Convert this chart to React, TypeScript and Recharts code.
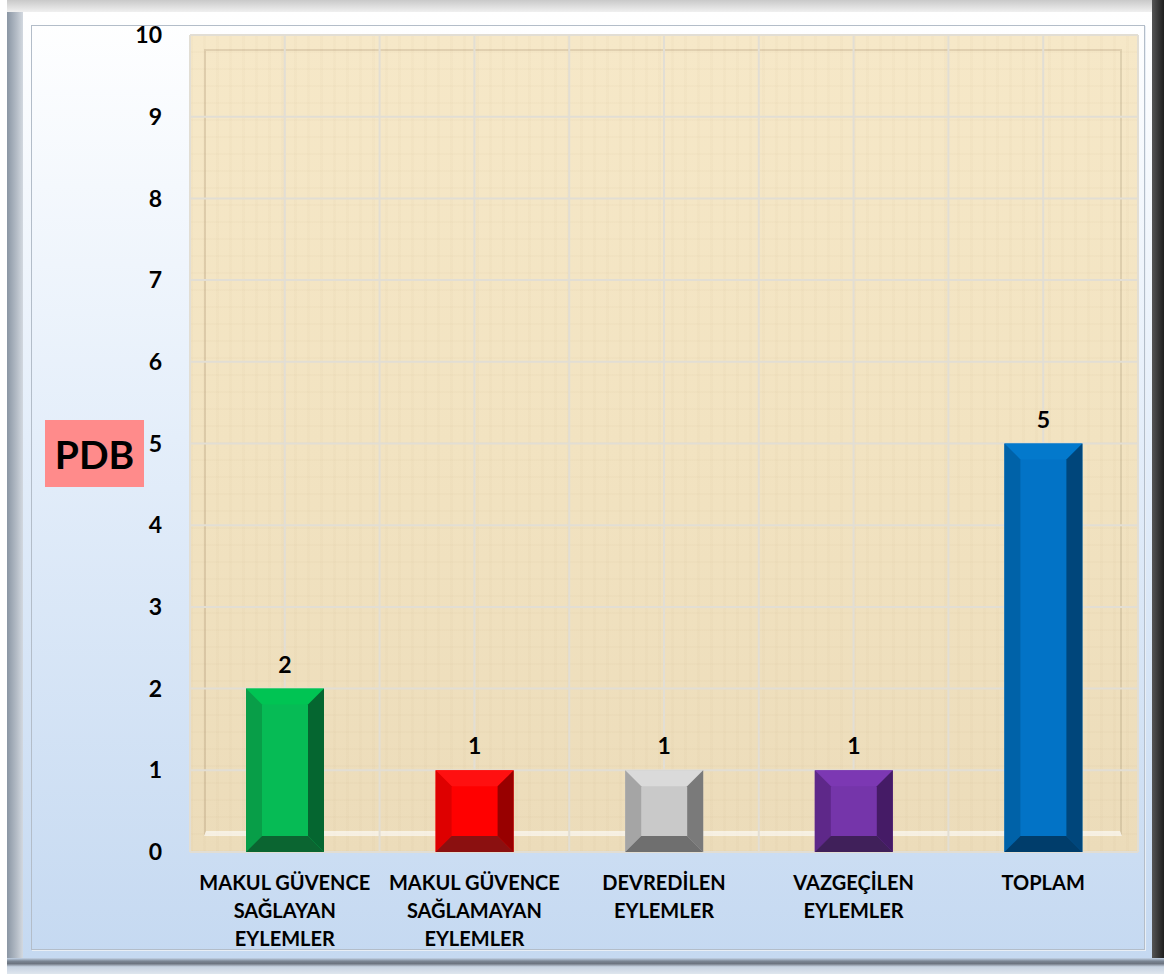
import React from "react";
import { BarChart, Bar, XAxis, YAxis, CartesianGrid, LabelList } from "recharts";

const categories = [
  "MAKUL GÜVENCE\nSAĞLAYAN\nEYLEMLER",
  "MAKUL GÜVENCE\nSAĞLAMAYAN\nEYLEMLER",
  "DEVREDİLEN\nEYLEMLER",
  "VAZGEÇİLEN\nEYLEMLER",
  "TOPLAM",
];
const values = [2, 1, 1, 1, 5];
const yTicks = [0, 1, 2, 3, 4, 5, 6, 7, 8, 9, 10];

// face colours: centre, top, left, right, bottom
const PALETTES = [
  { c: "#06bb55", t: "#00c453", l: "#089e48", r: "#056630", b: "#0b6531" },
  { c: "#ff0000", t: "#ff1010", l: "#de0000", r: "#980000", b: "#8b1010" },
  { c: "#c9c9c9", t: "#dadada", l: "#a5a5a5", r: "#7a7a7a", b: "#6f6f6f" },
  { c: "#7535aa", t: "#7c38b3", l: "#5e2889", r: "#451b66", b: "#40205a" },
  { c: "#0273c6", t: "#0379cc", l: "#0062a8", r: "#00467b", b: "#003d6b" },
];

const data = categories.map((name, i) => ({ name, value: values[i] }));

const W = 1164;
const H = 974;
const M = { top: 35, right: 26, bottom: 22, left: 130 };
const Y_W = 60;
const X_H = 100;
const PLOT = {
  left: M.left + Y_W,
  top: M.top,
  right: W - M.right,
  bottom: H - M.bottom - X_H,
};
const FONT = "Lato, 'Open Sans', sans-serif";

function BevelBar(props: any) {
  const { x, y, width, height, index } = props;
  const p = PALETTES[index % PALETTES.length];
  const d = 16;
  const x2 = x + width;
  const y2 = y + height;
  return (
    <g>
      <rect x={x} y={y} width={width} height={height} fill={p.c} />
      <polygon points={`${x},${y} ${x2},${y} ${x2 - d},${y + d} ${x + d},${y + d}`} fill={p.t} />
      <polygon points={`${x},${y} ${x + d},${y + d} ${x + d},${y2 - d} ${x},${y2}`} fill={p.l} />
      <polygon points={`${x2},${y} ${x2},${y2} ${x2 - d},${y2 - d} ${x2 - d},${y + d}`} fill={p.r} />
      <polygon points={`${x},${y2} ${x + d},${y2 - d} ${x2 - d},${y2 - d} ${x2},${y2}`} fill={p.b} />
    </g>
  );
}

function CategoryTick(props: any) {
  const { x, y, payload } = props;
  const lines = String(payload.value).split("\n");
  return (
    <text
      x={x}
      y={y + 30}
      textAnchor="middle"
      fontFamily={FONT}
      fontWeight={700}
      fontSize={20}
      fill="#000"
    >
      {lines.map((l, i) => (
        <tspan key={i} x={x} dy={i === 0 ? 0 : 28}>
          {l}
        </tspan>
      ))}
    </text>
  );
}

export default function App() {
  return (
    <div
      style={{
        position: "absolute",
        left: 0,
        top: 0,
        width: W,
        height: H,
        background: "#ffffff",
        overflow: "hidden",
      }}
    >
      {/* picture frame */}
      <div style={{ position: "absolute", left: 7, top: 0, right: 0, bottom: 0, background: "#d4d8de" }} />
      <div style={{ position: "absolute", left: 7, top: 0, width: 16, bottom: 0, background: "linear-gradient(90deg, #8a96a4, #b4bcc6 60%, #d3d9e0)" }} />
      <div style={{ position: "absolute", left: 7, top: 0, right: 0, height: 12, background: "linear-gradient(180deg, #c9c9c9, #f0f0f0)" }} />
      <div style={{ position: "absolute", right: 0, top: 0, width: 12, bottom: 0, background: "linear-gradient(90deg, #555, #1e1e1e)" }} />
      <div style={{ position: "absolute", left: 7, right: 0, bottom: 0, height: 16, background: "linear-gradient(180deg, #c4d4e8 0%, #7a8593 20%, #6c7480 35%, #c7d3e2 55%, #dfe6ee 100%)" }} />
      {/* inner panel */}
      <div
        style={{
          position: "absolute",
          left: 23,
          top: 12,
          right: 12,
          bottom: 16,
          background: "linear-gradient(180deg, #ffffff 0%, #e4eefa 45%, #c5d9f1 100%)",
        }}
      />
      <div
        style={{
          position: "absolute",
          left: 31,
          top: 25,
          width: 1143 - 31,
          height: 948 - 25,
          border: "1px solid #b3bdc9",
          boxShadow: "1px 1px 0 #e8eef5",
        }}
      />
      {/* parchment plot background */}
      <div
        style={{
          position: "absolute",
          left: PLOT.left,
          top: PLOT.top,
          width: PLOT.right - PLOT.left,
          height: PLOT.bottom - PLOT.top,
          background:
            "repeating-linear-gradient(90deg, rgba(170,140,95,0.035) 0 3px, rgba(255,255,255,0) 3px 13px), repeating-linear-gradient(0deg, rgba(170,140,95,0.035) 0 2px, rgba(255,255,255,0) 2px 17px), linear-gradient(180deg, #f6e8c8 0%, #f2e3c1 50%, #ecdcba 100%)",
        }}
      >
        <div
          style={{
            position: "absolute",
            left: 14,
            top: 14,
            right: 16,
            bottom: 16,
            borderLeft: "2px solid rgba(150,125,90,0.22)",
            borderTop: "2px solid rgba(150,125,90,0.22)",
            borderRight: "2px solid rgba(120,100,70,0.18)",
            borderBottom: "5px solid rgba(255,255,255,0.6)",
          }}
        />
      </div>
      <div
        style={{
          position: "absolute",
          left: 45,
          top: 420,
          width: 99,
          height: 67,
          background: "#ff8b8b",
          display: "flex",
          alignItems: "center",
          justifyContent: "center",
          fontFamily: FONT,
          fontWeight: 700,
          fontSize: 39,
          color: "#000",
        }}
      >
        PDB
      </div>
      <div style={{ position: "absolute", left: 0, top: 0 }}>
        <BarChart width={W} height={H} data={data} margin={M}>
          <CartesianGrid
            stroke="#e2ded4"
            strokeWidth={2}
            verticalCoordinatesGenerator={({ offset }: any) =>
              Array.from({ length: 11 }, (_, i) => offset.left + (i * offset.width) / 10)
            }
          />
          <XAxis
            dataKey="name"
            axisLine={false}
            tickLine={false}
            height={X_H}
            interval={0}
            tick={<CategoryTick />}
          />
          <YAxis
            domain={[0, 10]}
            ticks={yTicks}
            width={Y_W}
            axisLine={false}
            tickLine={false}
            interval={0}
            tick={{ fontFamily: FONT, fontWeight: 700, fontSize: 23, fill: "#000" }}
            tickMargin={22}
          />
          <Bar dataKey="value" barSize={78} shape={<BevelBar />} isAnimationActive={false}>
            <LabelList
              dataKey="value"
              position="top"
              offset={16}
              style={{ fontFamily: FONT, fontWeight: 700, fontSize: 23, fill: "#000" }}
            />
          </Bar>
        </BarChart>
      </div>
    </div>
  );
}
